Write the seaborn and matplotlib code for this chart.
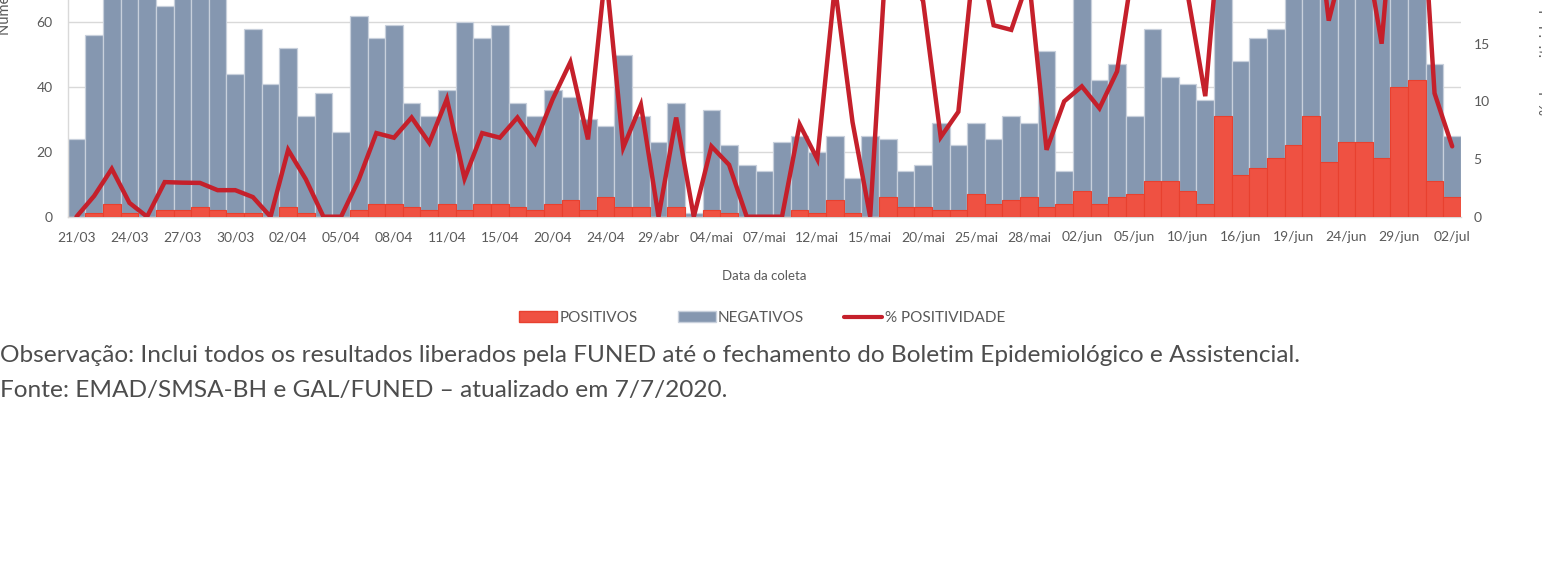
import numpy as np
import pandas as pd
import matplotlib
matplotlib.use("Agg")
import matplotlib.pyplot as plt
from matplotlib.patches import Patch
from matplotlib.lines import Line2D
import seaborn as sns

# ---------------- data ----------------
positivos = [0, 1, 4, 1, 0, 2, 2, 3, 2, 1,
             1, 0, 3, 1, 0, 0, 2, 4, 4, 3,
             2, 4, 2, 4, 4, 3, 2, 4, 5, 2,
             6, 3, 3, 0, 3, 0, 2, 1, 0, 0,
             0, 2, 1, 5, 1, 0, 6, 3, 3, 2,
             2, 7, 4, 5, 6, 3, 4, 8, 4, 6,
             7, 11, 11, 8, 4, 31, 13, 15, 18, 22,
             31, 17, 23, 23, 18, 40, 42, 11, 6]
negativos = [24, 55, 92, 82, 72, 63, 66, 99, 85, 43,
             57, 41, 49, 30, 38, 26, 60, 51, 55, 32,
             29, 35, 58, 51, 55, 32, 29, 35, 32, 28,
             22, 47, 28, 23, 32, 1, 31, 21, 16, 14,
             23, 23, 19, 20, 11, 25, 18, 11, 13, 27,
             20, 22, 20, 26, 23, 48, 10, 63, 38, 41,
             24, 47, 32, 33, 32, 79, 35, 40, 40, 78,
             72, 83, 72, 73, 102, 81, 78, 36, 19]
positividade = [0, 1.8, 4.15, 1.2, 0, 3.0, 2.95, 2.93, 2.3, 2.3,
                1.7, 0, 5.8, 3.25, 0, 0, 3.2, 7.25, 6.85, 8.6,
                6.4, 10.2, 3.3, 7.25, 6.85, 8.6, 6.4, 10.2, 13.4, 6.7,
                21.4, 6.0, 9.7, 0, 8.6, 0, 6.1, 4.5, 0, 0,
                0, 8.0, 5.0, 20, 8.2, 0, 25, 21.4, 18.7, 6.9,
                9.1, 24, 16.6, 16.2, 20.7, 5.8, 10.0, 11.3, 9.4, 12.6,
                22.6, 18.9, 25.6, 19.3, 10.45, 28, 27, 27, 31, 22,
                30, 17.0, 23, 24, 15.0, 33, 35, 10.7, 6.1]
rotulos = ["21/03", "24/03", "27/03", "30/03", "02/04", "05/04", "08/04",
           "11/04", "15/04", "20/04", "24/04", "29/abr", "04/mai", "07/mai",
           "12/mai", "15/mai", "20/mai", "25/mai", "28/mai", "02/jun",
           "05/jun", "10/jun", "16/jun", "19/jun", "24/jun", "29/jun", "02/jul"]
ticks_esq = [0, 20, 40, 60]
ticks_dir = [0, 5, 10, 15]

# ---------------- style ----------------
sns.set_style("white")
plt.rcParams["font.family"] = ["Lato", "DejaVu Sans"]

W, H = 1542, 582
fig = plt.figure(figsize=(W / 100, H / 100), dpi=100)

n = len(positivos)
df = pd.DataFrame({
    "idx": np.arange(n),
    "pos": positivos,
    "neg": negativos,
    "pct": positividade,
})
df["total"] = df["pos"] + df["neg"]

RED = "#EF5142"
GREY = "#8597B0"
LINE = "#C5202B"
TXT = "#595959"

# axes placement (px measured on the reference); the chart is cropped at top
x0, x1 = 67.7, 1461.0
ybot = 216.7
hpx = 519.0
ax = fig.add_axes([x0 / W, (H - ybot) / H, (x1 - x0) / W, hpx / H])

sns.barplot(data=df, x="idx", y="total", ax=ax, color=GREY, saturation=1,
            width=1.0, edgecolor="#C8D0DC", linewidth=0.9, zorder=2)
sns.barplot(data=df, x="idx", y="pos", ax=ax, color=RED, saturation=1,
            width=1.0, edgecolor="#E8402F", linewidth=0.8, zorder=3)

ax.set_ylim(0, 160)
ax.set_xlim(-0.5, n - 0.5)
ax.set_yticks(ticks_esq)
ax.yaxis.grid(True, color="#D9D9D9", linewidth=1.0)
ax.set_axisbelow(True)
ax.set_xlabel("")
ax.set_ylabel("")
for s in ["top", "right"]:
    ax.spines[s].set_visible(False)
ax.spines["left"].set_color("#D9D9D9")
ax.spines["bottom"].set_color("#D9D9D9")
ax.spines["left"].set_linewidth(1.0)
ax.spines["bottom"].set_linewidth(1.0)

ax.set_xticks(np.arange(0, n, 3))
ax.set_xticklabels(rotulos)
ax.set_xticks(np.arange(-0.5, n, 3), minor=True)
ax.tick_params(axis="x", which="major", length=0, pad=10.5, labelsize=10, labelcolor=TXT)
ax.tick_params(axis="x", which="minor", length=4, width=1, color="#BFBFBF")
ax.tick_params(axis="y", length=0, pad=11, labelsize=10, labelcolor=TXT)

ax2 = ax.twinx()
sns.lineplot(data=df, x="idx", y="pct", ax=ax2, color=LINE, linewidth=3.2,
             solid_joinstyle="miter", zorder=5)
ax2.set_ylim(0, 45)
ax2.set_yticks(ticks_dir)
ax2.set_xlim(-0.5, n - 0.5)
ax2.set_ylabel("")
ax2.set_xlabel("")
for s in ["top", "right", "left", "bottom"]:
    ax2.spines[s].set_visible(False)
ax2.tick_params(axis="y", length=0, pad=9, labelsize=10, labelcolor=TXT)

# axis titles (cropped in the reference)
fig.text(5 / W, 1 - 35 / H, "Número de exames", rotation=90, ha="center",
         va="bottom", fontsize=10.5, color=TXT)
fig.text(1540.5 / W, 1 - 58 / H, "% de positividade", rotation=90, ha="left",
         va="center", fontsize=10.5, color=TXT)
fig.text((x0 + x1) / 2 / W, 1 - 276 / H, "Data da coleta", ha="center",
         va="center", fontsize=9.5, color=TXT)

handles = [Patch(facecolor=RED, edgecolor="#E8402F"),
           Patch(facecolor=GREY, edgecolor="#C8D0DC"),
           Line2D([0], [0], color=LINE, linewidth=3)]
fig.legend(handles, ["POSITIVOS", "NEGATIVOS", "% POSITIVIDADE"],
           loc="center", bbox_to_anchor=(762 / W, 1 - 318 / H), ncol=3,
           frameon=False, fontsize=11, labelcolor=TXT, handlelength=2.5,
           handleheight=0.7, handletextpad=0.15, columnspacing=2.6)

# footnotes, sized so the first line spans ~1303 px
nota1 = ("Observação: Inclui todos os resultados liberados pela FUNED até o "
         "fechamento do Boletim Epidemiológico e Assistencial.")
nota2 = "Fonte: EMAD/SMSA-BH e GAL/FUNED – atualizado em 7/7/2020."
t1 = fig.text(0.5 / W, 1 - 356 / H, nota1, ha="left", va="center",
              fontsize=16, color="#4D4D4D")
fig.canvas.draw()
wpx = t1.get_window_extent(fig.canvas.get_renderer()).width
fs = 16 * 1303 / wpx
t1.set_fontsize(fs)
fig.text(0.5 / W, 1 - 390 / H, nota2, ha="left", va="center",
         fontsize=fs, color="#4D4D4D")

fig.savefig("out.png", dpi=100)
